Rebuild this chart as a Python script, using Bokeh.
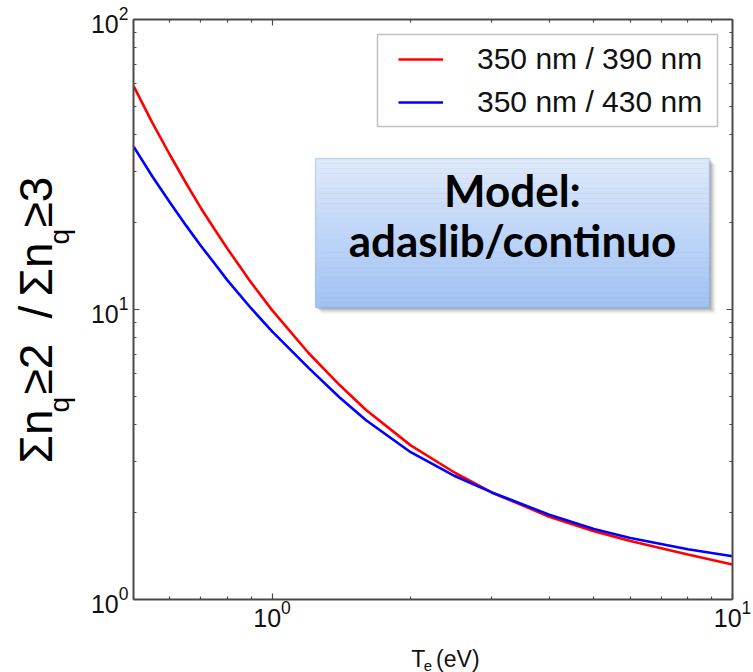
import math

from bokeh.core.properties import value
from bokeh.embed import file_html
from bokeh.layouts import column, row
from bokeh.models import (BoxAnnotation, CustomJSTickFormatter, FixedTicker, Label,
                          Legend, LegendItem, LogAxis, Range1d)
from bokeh.plotting import figure
from bokeh.resources import INLINE

# Electron temperature grid (eV) and continuum intensity ratios
te_ev = [0.5, 0.55, 0.6, 0.65, 0.7, 0.75, 0.8, 0.9, 1.0, 1.2, 1.4, 1.6, 2.0, 2.5, 3.0, 4.0, 5.0, 6.0, 8.0, 10.0]
ratio_350_390 = [59.0, 43.9, 34.1, 27.3, 22.4, 18.9, 16.2, 12.4, 9.95, 7.08, 5.50, 4.50, 3.40, 2.73, 2.34, 1.93, 1.72, 1.59, 1.43, 1.32]
ratio_350_430 = [36.5, 28.7, 23.4, 19.5, 16.6, 14.4, 12.6, 10.1, 8.41, 6.29, 4.98, 4.15, 3.22, 2.66, 2.34, 1.96, 1.75, 1.63, 1.49, 1.41]
series_labels = ["350 nm / 390 nm", "350 nm / 430 nm"]
series_colors = ["#ff0000", "#0000ff"]

# Axis ticks
x_major_ticks = [1, 10]
x_minor_ticks = [0.5, 0.6, 0.7, 0.8, 0.9, 2, 3, 4, 5, 6, 7, 8, 9]
y_major_ticks = [1, 10, 100]
y_minor_ticks = [2, 3, 4, 5, 6, 7, 8, 9, 20, 30, 40, 50, 60, 70, 80, 90]

model_lines = ["Model:", "adaslib/continuo"]

# Page geometry (pixels): left title strip, top strip, x-title strip
PAGE_W, PAGE_H = 753, 672
LEFT_W = 80
TOP_H = 4
XTITLE_H = 32
FL, FT, FW, FH = 133, 19, 599, 580          # plot frame on the page
AXIS_COLOR = "#4a4a4a"
MAIN_W = PAGE_W - LEFT_W
MAIN_H = PAGE_H - TOP_H - XTITLE_H


def fx(x):
    """page x -> frame screen x"""
    return x - FL


def fy(y):
    """page y -> frame screen y (from frame bottom)"""
    return FT + FH - y


def blank_fig(w, h, x0, y0):
    f = figure(width=w, height=h, x_range=Range1d(x0, x0 + w), y_range=Range1d(0, h),
               min_border=0, x_axis_location=None, y_axis_location=None,
               output_backend="svg", toolbar_location=None,
               background_fill_color="white", border_fill_color="white")
    f.outline_line_color = None
    f.grid.visible = False
    return f


# ---- main chart ----
p = figure(x_axis_type="log", y_axis_type="log",
           x_range=Range1d(0.5, 10), y_range=Range1d(1, 100),
           frame_width=FW, frame_height=FH,
           min_border_left=FL - LEFT_W, min_border_right=PAGE_W - FL - FW,
           min_border_top=FT - TOP_H, min_border_bottom=MAIN_H - (FT - TOP_H) - FH,
           output_backend="svg", toolbar_location=None,
           background_fill_color="white", border_fill_color="white")
p.outline_line_color = None
p.xgrid.visible = False
p.ygrid.visible = False


def style_axis(ax, ticks, minor, labelled):
    ax.ticker = FixedTicker(ticks=ticks, minor_ticks=minor)
    ax.axis_line_color = AXIS_COLOR
    ax.axis_line_width = 2
    ax.major_tick_line_color = AXIS_COLOR
    ax.major_tick_line_width = 1.2
    ax.minor_tick_line_color = AXIS_COLOR
    ax.minor_tick_line_width = 1.2
    ax.major_tick_in = 6
    ax.major_tick_out = 0
    ax.minor_tick_in = 3
    ax.minor_tick_out = 0
    if labelled:
        ax.major_label_text_font = "Liberation Sans"
        ax.major_label_text_font_size = "25px"
        ax.major_label_text_color = "#111111"
    else:
        ax.formatter = CustomJSTickFormatter(code="return ''")
        ax.major_label_text_font_size = "1px"
        ax.major_label_standoff = 0


style_axis(p.xaxis[0], x_major_ticks, x_minor_ticks, True)
style_axis(p.yaxis[0], y_major_ticks, y_minor_ticks, True)
p.xaxis[0].major_label_standoff = 0
p.yaxis[0].major_label_standoff = 5

top_axis = LogAxis()
style_axis(top_axis, x_major_ticks, x_minor_ticks, False)
p.add_layout(top_axis, "above")
right_axis = LogAxis()
style_axis(right_axis, y_major_ticks, y_minor_ticks, False)
p.add_layout(right_axis, "right")

renderers = []
for ys, col in zip([ratio_350_390, ratio_350_430], series_colors):
    renderers.append(p.line(te_ev, ys, line_color=col, line_width=2.6))

# Legend frame and entries
p.add_layout(BoxAnnotation(left=fx(377), right=fx(717), top=fy(34), bottom=fy(126),
                           left_units="screen", right_units="screen",
                           top_units="screen", bottom_units="screen",
                           fill_color="white", fill_alpha=1.0,
                           line_color="#333333", line_width=1.5))
legend = Legend(items=[LegendItem(label=lab, renderers=[r]) for lab, r in zip(series_labels, renderers)],
                location=(fx(398), fy(120)), padding=0, margin=0,
                border_line_alpha=0, background_fill_alpha=0,
                glyph_width=45, glyph_height=36, label_height=36, spacing=7,
                label_standoff=34, label_text_font="Liberation Sans",
                label_text_font_size="30px", label_text_color="#111111")
p.add_layout(legend)

# Model callout: soft shadow, vertical gradient, thin border
bx0, bx1, by0, by1 = 315, 709, 158, 307
for off, alpha in [(6, 0.10), (4, 0.18), (2, 0.25)]:
    p.add_layout(BoxAnnotation(left=fx(bx0 + off), right=fx(bx1 + off),
                               top=fy(by0 + off), bottom=fy(by1 + off),
                               left_units="screen", right_units="screen",
                               top_units="screen", bottom_units="screen",
                               fill_color="#555555", fill_alpha=alpha, line_alpha=0))
top_rgb = (223, 234, 252)
bot_rgb = (160, 194, 244)
n_bands = 30
band_h = (by1 - by0) / n_bands
for i in range(n_bands):
    t = (i + 0.5) / n_bands
    rgb = tuple(int(round(a + (b - a) * t)) for a, b in zip(top_rgb, bot_rgb))
    col = "#%02x%02x%02x" % rgb
    p.add_layout(BoxAnnotation(left=fx(bx0), right=fx(bx1),
                               top=fy(by0 + i * band_h), bottom=fy(by0 + (i + 1) * band_h),
                               left_units="screen", right_units="screen",
                               top_units="screen", bottom_units="screen",
                               fill_color=col, fill_alpha=1.0,
                               line_color=col, line_width=1))
p.add_layout(BoxAnnotation(left=fx(bx0), right=fx(bx1), top=fy(by0), bottom=fy(by1),
                           left_units="screen", right_units="screen",
                           top_units="screen", bottom_units="screen",
                           fill_alpha=0, line_color="#6b98d4", line_width=1.5))
# text anchors sit ~0.38 em below the drawn baseline, hence the raised positions
for txt, base in zip(model_lines, [189, 239]):
    p.add_layout(Label(x=fx(512), y=fy(base), x_units="screen", y_units="screen",
                       text=txt, text_font="Lato", text_font_style="bold",
                       text_font_size="44px", text_color="black",
                       text_align="center", text_baseline="alphabetic"))

# ---- y-axis title strip (rotated text with subscripts) ----
ytitle = blank_fig(LEFT_W, PAGE_H, 0, 0)
ytitle_main = [("Σn", 463), ("≥2", 394), ("/", 318), ("Σn", 296), ("≥3", 227)]
ytitle_sub = [("q", 412), ("q", 244)]
ytitle.text(x=[35] * len(ytitle_main), y=[PAGE_H - s for _, s in ytitle_main],
            text=[t for t, _ in ytitle_main], angle=math.pi / 2,
            text_font=value("Liberation Sans"), text_font_size="46px", text_color="black",
            text_align="left", text_baseline="alphabetic")
ytitle.text(x=[59] * len(ytitle_sub), y=[PAGE_H - s for _, s in ytitle_sub],
            text=[t for t, _ in ytitle_sub], angle=math.pi / 2,
            text_font=value("Liberation Sans"), text_font_size="28px", text_color="black",
            text_align="left", text_baseline="alphabetic")

# ---- top strip: tip of a red arrow ----
topstrip = blank_fig(MAIN_W, TOP_H, LEFT_W, 0)
topstrip.patch(x=[551, 560, 555.5], y=[TOP_H, TOP_H, TOP_H - 3.5],
               fill_color="#ff0000", line_color="#ff0000")

# ---- x-axis title strip ----
xtitle = blank_fig(MAIN_W, XTITLE_H, LEFT_W, 0)
xtitle.text(x=[392, 420], y=[14, 14], text=["T", "(eV)"],
            text_font=value("Liberation Sans"), text_font_size="23px", text_color="#111111",
            text_align="left", text_baseline="alphabetic")
xtitle.text(x=[406], y=[7], text=["e"],
            text_font=value("Liberation Sans"), text_font_size="15px", text_color="#111111",
            text_align="left", text_baseline="alphabetic")

page = row(ytitle, column(topstrip, p, xtitle, spacing=0), spacing=0)
open("out.html", "w").write(file_html(page, INLINE))
